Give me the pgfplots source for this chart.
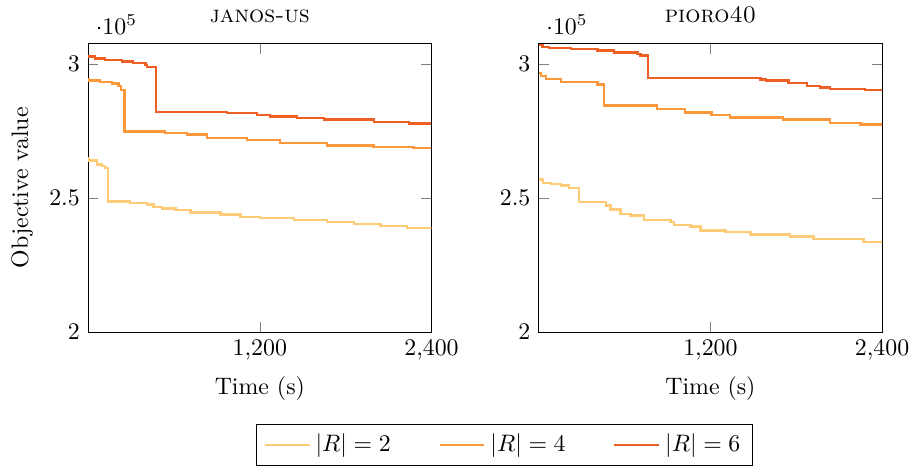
\documentclass[border=0pt]{standalone}
\usepackage{pgfplots}
\pgfplotsset{compat=1.18}
\usepgfplotslibrary{groupplots}
\definecolor{rtwo}{RGB}{254,204,120}
\definecolor{rfour}{RGB}{252,152,60}
\definecolor{rsix}{RGB}{238,95,35}

\begin{document}
\begin{tikzpicture}
\begin{groupplot}[
    group style={group size=2 by 1, horizontal sep=45pt},
    width=144pt, height=121pt, scale only axis,
    xmin=0, xmax=2400, ymin=200000, ymax=307500,
    xtick={1200,2400},
    ytick={200000,250000,300000},
    xlabel={Time (s)},
    title style={font=\scshape, yshift=-1pt},
    every axis plot/.append style={const plot, line width=1pt, no marks},
]
\nextgroupplot[title={janos-us}, ylabel={Objective value}]
\addplot[rtwo] coordinates {
    (0,264900) (2,264000) (61,262500) (96,261800) (119,261200) (138,248600)
    (294,248200) (411,247600) (457,246600) (515,246000) (609,245400)
    (714,244500) (924,243800) (1064,243000) (1203,242400) (1437,241700)
    (1670,241000) (1857,240300) (2043,239500) (2230,238900) (2400,238300)
};
\addplot[rfour] coordinates {
    (0,294400) (2,293700) (84,293200) (166,292600) (212,291600) (231,290300)
    (254,274800) (539,274200) (690,273600) (830,272400) (1110,271500)
    (1343,270500) (1670,269500) (1995,269000) (2275,268500) (2400,268500)
};
\addplot[rsix] coordinates {
    (0,302700) (49,301900) (119,301500) (236,300900) (315,300300)
    (400,299600) (411,298800) (476,282000) (970,281700) (1180,281000)
    (1273,280400) (1460,279700) (1647,279200) (1996,278400) (2241,277800)
    (2400,277800)
};

\nextgroupplot[title={pioro40},
    legend style={at={(-0.1,-0.319)}, anchor=north, legend columns=3,
        /tikz/every even column/.append style={column sep=18pt}},
    legend image post style={xscale=1.1}]
\addplot[rtwo] coordinates {
    (0,256900) (30,255600) (84,255200) (154,254600) (212,253800)
    (282,248500) (468,247200) (502,245700) (572,244100) (642,243500)
    (735,241700) (921,241000) (944,239800) (1060,239300) (1130,237900)
    (1305,237300) (1479,236400) (1758,235600) (1921,234600) (2270,233600)
    (2400,233000)
};
\addplot[rfour] coordinates {
    (0,296500) (15,295500) (49,294300) (154,293200) (410,292200)
    (456,284400) (828,283200) (1023,281900) (1209,281000) (1336,280000)
    (1707,279200) (2037,278000) (2250,277300) (2400,276700)
};
\addplot[rsix] coordinates {
    (0,307000) (25,306200) (70,305800) (224,305500) (410,304900)
    (527,304200) (690,303700) (712,303100) (762,294700) (1550,294100)
    (1590,293800) (1746,292800) (1874,291800) (1967,291200) (2037,290700)
    (2279,290200) (2400,289700)
};
\legend{$|R|=2$, $|R|=4$, $|R|=6$}
\end{groupplot}
\pgfresetboundingbox
\useasboundingbox ([xshift=-37pt, yshift=18.3pt]group c1r1.north west)
    rectangle ([xshift=15.5pt, yshift=-58pt]group c2r1.south east);
\end{tikzpicture}
\end{document}
